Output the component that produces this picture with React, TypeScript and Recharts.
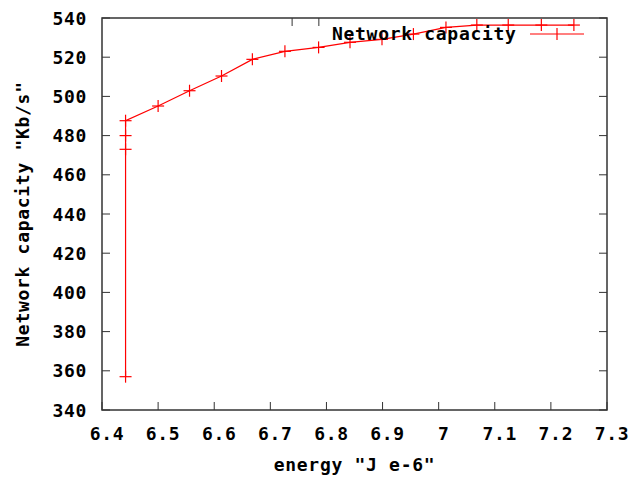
import { LineChart, Line, XAxis, YAxis, Legend } from 'recharts';

const energy = [6.442, 6.442, 6.442, 6.442, 6.5, 6.556, 6.613, 6.668, 6.726, 6.786, 6.842, 6.899, 6.955, 7.013, 7.068, 7.124, 7.183, 7.241];
const capacity = [357, 473, 480, 487.6, 495.1, 502.9, 510.4, 518.9, 523, 525, 527.6, 529.1, 531.8, 535.2, 536.4, 536.4, 536.4, 536.4];
const xTicks = [6.4, 6.5, 6.6, 6.7, 6.8, 6.9, 7, 7.1, 7.2, 7.3];
const yTicks = [340, 360, 380, 400, 420, 440, 460, 480, 500, 520, 540];

const SERIES = 'Network capacity';
const RED = '#ff0000';
const BORDER = '#333333';
const TICK_LEN = 8;
const FONT = {
  fontFamily: '"DejaVu Sans Mono", monospace',
  fontWeight: 700,
  fontSize: 18,
  letterSpacing: 0.7,
  fill: '#000',
};

// chart layout
const W = 630;
const H = 477;
const MARGIN = { top: 17, right: 22, bottom: 0, left: 0 };
const X_AXIS_H = 67;
const TOP_AXIS_H = 1;
const Y_AXIS_W = 102;
const RIGHT_AXIS_W = 1;
const PLOT = {
  x: MARGIN.left + Y_AXIS_W,
  y: MARGIN.top + TOP_AXIS_H,
  w: W - MARGIN.left - MARGIN.right - Y_AXIS_W - RIGHT_AXIS_W,
  h: H - MARGIN.top - MARGIN.bottom - TOP_AXIS_H - X_AXIS_H,
};

const data = energy.map((e, i) => ({ energy: e, capacity: capacity[i] }));

const Cross = (props: any) => {
  const { cx, cy, index } = props;
  if (cx == null || cy == null) return <g key={index} />;
  return (
    <g key={index}>
      <line x1={cx - 6} y1={cy} x2={cx + 6} y2={cy} stroke={RED} strokeWidth={1.2} />
      <line x1={cx} y1={cy - 6} x2={cx} y2={cy + 6} stroke={RED} strokeWidth={1.2} />
    </g>
  );
};

// gnuplot style: tick marks point into the plot
const BottomTick = ({ x, y, payload }: any) => (
  <g>
    <path d={`M${x},${y}V${y - TICK_LEN}`} stroke={BORDER} fill="none" />
    <text x={x + 5} y={y + 30} textAnchor="middle" style={FONT}>
      {String(payload.value)}
    </text>
  </g>
);

const LeftTick = ({ x, y, payload }: any) => (
  <g>
    <path d={`M${x},${y}H${x + TICK_LEN}`} stroke={BORDER} fill="none" />
    <text x={x - 15} y={y} textAnchor="end" dominantBaseline="central" style={FONT}>
      {String(payload.value)}
    </text>
  </g>
);

const TopTick = ({ x, y }: any) => <path d={`M${x},${y}V${y + TICK_LEN}`} stroke={BORDER} fill="none" />;
const RightTick = ({ x, y }: any) => <path d={`M${x},${y}H${x - TICK_LEN}`} stroke={BORDER} fill="none" />;

const YTitle = ({ viewBox }: any) => {
  const x = viewBox.x + 22;
  const y = viewBox.y + viewBox.height / 2;
  return (
    <text x={x} y={y} transform={`rotate(-90 ${x} ${y})`} textAnchor="middle" dominantBaseline="central" style={FONT}>
      Network capacity "Kb/s"
    </text>
  );
};

const XTitle = ({ viewBox }: any) => (
  <text x={viewBox.x + viewBox.width / 2} y={viewBox.y + 61} textAnchor="middle" style={FONT}>
    energy "J e-6"
  </text>
);

const KeyBox = () => (
  <div style={{ display: 'flex', alignItems: 'center', height: 24 }}>
    <span
      style={{
        fontFamily: FONT.fontFamily,
        fontWeight: 700,
        fontSize: 18,
        letterSpacing: 0.7,
        color: '#000',
        lineHeight: '24px',
        marginRight: 13,
      }}
    >
      {SERIES}
    </span>
    <svg width={56} height={24}>
      <line x1={0} y1={12} x2={54} y2={12} stroke={RED} strokeWidth={1.2} />
      <line x1={27} y1={6} x2={27} y2={18} stroke={RED} strokeWidth={1.2} />
    </svg>
  </div>
);

export default function App() {
  return (
    <div style={{ position: 'absolute', left: 0, top: 0, width: W, height: H, background: '#fff' }}>
      <LineChart width={W} height={H} data={data} margin={MARGIN}>
        <XAxis
          dataKey="energy"
          type="number"
          domain={[6.4, 7.3]}
          ticks={xTicks}
          allowDataOverflow
          height={X_AXIS_H}
          tickSize={0}
          tickMargin={0}
          tickLine={false}
          axisLine={false}
          tick={BottomTick}
          label={{ content: XTitle }}
        />
        <XAxis
          xAxisId="top"
          orientation="top"
          type="number"
          domain={[6.4, 7.3]}
          ticks={xTicks}
          allowDataOverflow
          height={TOP_AXIS_H}
          tickSize={0}
          tickMargin={0}
          tickLine={false}
          axisLine={false}
          tick={TopTick}
        />
        <YAxis
          type="number"
          domain={[340, 540]}
          ticks={yTicks}
          allowDataOverflow
          width={Y_AXIS_W}
          tickSize={0}
          tickMargin={0}
          tickLine={false}
          axisLine={false}
          tick={LeftTick}
          label={{ content: YTitle }}
        />
        <YAxis
          yAxisId="right"
          orientation="right"
          type="number"
          domain={[340, 540]}
          ticks={yTicks}
          allowDataOverflow
          width={RIGHT_AXIS_W}
          tickSize={0}
          tickMargin={0}
          tickLine={false}
          axisLine={false}
          tick={RightTick}
        />
        <Legend
          layout="vertical"
          align="center"
          verticalAlign="middle"
          wrapperStyle={{ top: 22, left: 332, width: 280, height: 24 }}
          content={KeyBox}
        />
        <Line
          type="linear"
          dataKey="capacity"
          name={SERIES}
          stroke={RED}
          strokeWidth={1.2}
          dot={Cross}
          activeDot={false}
          isAnimationActive={false}
        />
      </LineChart>
      {/* plot box border, laid over the chart from the same layout numbers */}
      <svg
        width={W}
        height={H}
        style={{ position: 'absolute', left: 0, top: 0, pointerEvents: 'none' }}
      >
        <rect x={PLOT.x} y={PLOT.y} width={PLOT.w} height={PLOT.h} fill="none" stroke={BORDER} strokeWidth={1.5} />
      </svg>
    </div>
  );
}
